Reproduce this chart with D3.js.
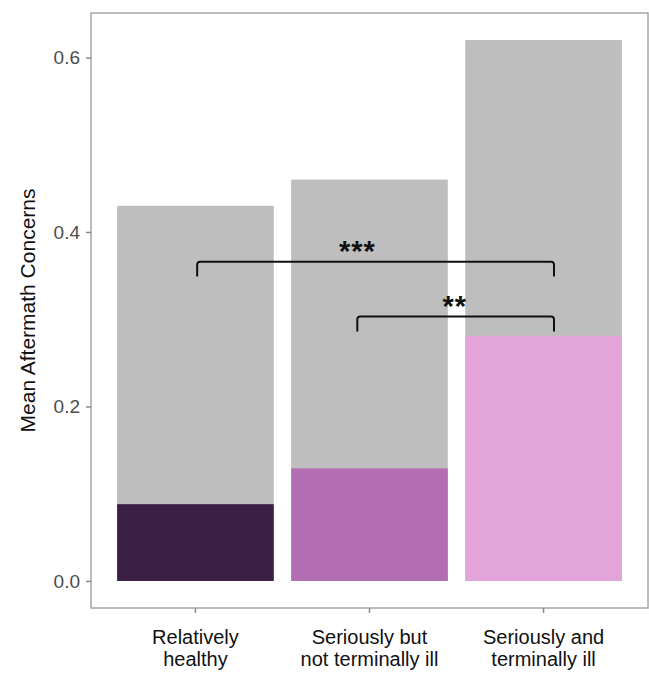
<!DOCTYPE html>
<html>
<head>
<meta charset="utf-8">
<script src="https://cdn.jsdelivr.net/npm/d3@7"></script>
<style>
  body { margin: 0; background: #fff; }
  svg { font-family: "Liberation Sans", Arial, Helvetica, sans-serif; }
</style>
</head>
<body>
<div id="chart"></div>
<script>
// data
const categories = ["Relatively healthy", "Seriously but not terminally ill", "Seriously and terminally ill"];
const catLines = [["Relatively", "healthy"], ["Seriously but", "not terminally ill"], ["Seriously and", "terminally ill"]];
const totalValues = [0.43, 0.46, 0.62];     // grey background bars
const concernValues = [0.088, 0.129, 0.281]; // coloured bars
const barColors = ["#3b1f45", "#b36db3", "#e3a5d9"];
const yTicks = [0.0, 0.2, 0.4, 0.6];

// significance brackets (from/to/labelAt are in category index units, 0 = first bar centre)
const bracketFrom = [0.01, 0.93];
const bracketTo = [2.06, 2.06];
const bracketLabelAt = [0.93, 1.49];
const bracketTop = [0.366, 0.303];
const bracketEnd = [0.349, 0.286];
const bracketLabel = ["***", "**"];

const width = 649, height = 673;
const margin = { top: 13, right: 1, bottom: 65, left: 91 };

const svg = d3.select("#chart").append("svg")
    .attr("width", width)
    .attr("height", height);

const x = d3.scaleBand()
    .domain(categories)
    .range([margin.left, width - margin.right])
    .paddingInner(0.1)
    .paddingOuter(0.15);

const yMax = d3.max(totalValues);
const y = d3.scaleLinear()
    .domain([-yMax * 0.05, yMax * 1.05])
    .range([height - margin.bottom, margin.top]);

// index -> pixel, for the brackets
const xIdx = d3.scaleLinear()
    .domain([0, 1])
    .range([x(categories[0]) + x.bandwidth() / 2, x(categories[1]) + x.bandwidth() / 2]);

// grey bars
svg.append("g")
  .selectAll("rect")
  .data(categories)
  .enter().append("rect")
    .attr("x", d => x(d))
    .attr("width", x.bandwidth())
    .attr("y", (d, i) => y(totalValues[i]))
    .attr("height", (d, i) => y(0) - y(totalValues[i]))
    .attr("fill", "#bebebe");

// coloured bars
svg.append("g")
  .selectAll("rect")
  .data(categories)
  .enter().append("rect")
    .attr("x", d => x(d))
    .attr("width", x.bandwidth())
    .attr("y", (d, i) => y(concernValues[i]))
    .attr("height", (d, i) => y(0) - y(concernValues[i]))
    .attr("fill", (d, i) => barColors[i]);

// brackets
const br = svg.append("g");
bracketLabel.forEach((lab, i) => {
  const x0 = xIdx(bracketFrom[i]), x1 = xIdx(bracketTo[i]);
  const yt = y(bracketTop[i]), ye = y(bracketEnd[i]);
  br.append("path")
    .attr("d", `M${x0},${ye} L${x0},${yt + 3} Q${x0},${yt} ${x0 + 3},${yt} L${x1 - 3},${yt} Q${x1},${yt} ${x1},${yt + 3} L${x1},${ye}`)
    .attr("fill", "none")
    .attr("stroke", "#111")
    .attr("stroke-width", 2);
  br.append("text")
    .attr("x", xIdx(bracketLabelAt[i]))
    .attr("y", yt - 1)
    .attr("text-anchor", "middle")
    .attr("font-size", 29)
    .attr("font-weight", "bold")
    .attr("letter-spacing", 1)
    .attr("fill", "#111")
    .text(lab);
});

// panel border
svg.append("rect")
  .attr("x", margin.left)
  .attr("y", margin.top)
  .attr("width", width - margin.left - margin.right)
  .attr("height", height - margin.top - margin.bottom)
  .attr("fill", "none")
  .attr("stroke", "#a6a6a6")
  .attr("stroke-width", 1.5);

// y axis
const yAxis = svg.append("g")
  .attr("transform", `translate(${margin.left},0)`)
  .call(d3.axisLeft(y).tickValues(yTicks).tickFormat(d3.format(".1f")).tickSize(5).tickPadding(6));
yAxis.select(".domain").remove();
yAxis.selectAll(".tick line").attr("stroke", "#8a8a8a").attr("stroke-width", 1.5);
yAxis.selectAll(".tick text").attr("font-size", 19).attr("fill", "#4d4d4d")
  .attr("font-family", "Liberation Sans, Arial, sans-serif");

// x axis
const xAxis = svg.append("g")
  .attr("transform", `translate(0,${height - margin.bottom})`)
  .call(d3.axisBottom(x).tickSize(5).tickFormat(""));
xAxis.select(".domain").remove();
xAxis.selectAll(".tick line").attr("stroke", "#8a8a8a").attr("stroke-width", 1.5);
xAxis.selectAll(".tick").each(function(d, i) {
  const t = d3.select(this).append("text")
    .attr("text-anchor", "middle")
    .attr("fill", "#111")
    .attr("font-size", 20)
    .attr("font-family", "Liberation Sans, Arial, sans-serif");
  catLines[i].forEach((line, j) => {
    t.append("tspan").attr("x", 0).attr("y", 36 + j * 22).text(line);
  });
});

// y title
svg.append("text")
  .attr("transform", `translate(35,${(margin.top + height - margin.bottom) / 2}) rotate(-90)`)
  .attr("text-anchor", "middle")
  .attr("font-size", 21)
  .attr("fill", "#111")
  .text("Mean Aftermath Concerns");
</script>
</body>
</html>
